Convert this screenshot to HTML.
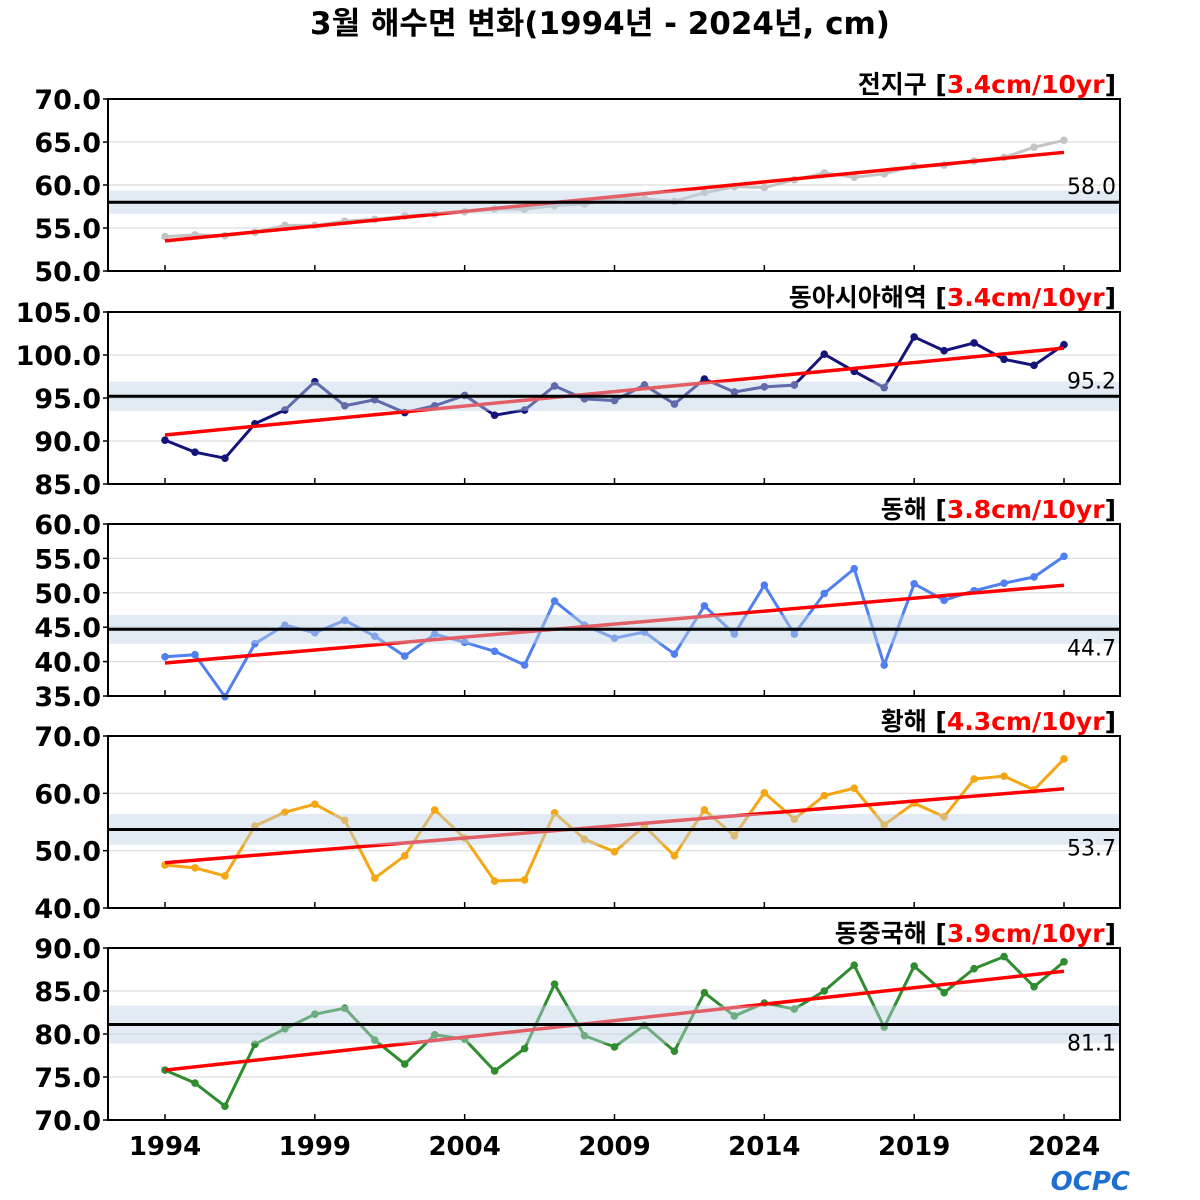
<!DOCTYPE html>
<html><head><meta charset="utf-8"><style>
body{margin:0;background:#fff;width:1200px;height:1200px;overflow:hidden}
svg{display:block}
text{font-family:"DejaVu Sans","Noto Sans CJK KR",sans-serif}
</style></head><body>
<svg id="chart" width="1200" height="1200">
<text x="600" y="34" text-anchor="middle" font-size="31" font-weight="bold">3월 해수면 변화(1994년 - 2024년, cm)</text>
<text x="1130" y="1190" text-anchor="end" font-size="26" font-weight="bold" fill="#1e6fd0" font-style="italic">OCPC</text>
</svg>
<script>
const years=[];for(let y=1994;y<=2024;y++)years.push(y);
const xTicks=[1994,1999,2004,2009,2014,2019,2024];
const globalVals=[54.0,54.2,54.1,54.5,55.3,55.3,55.8,56.0,56.4,56.6,56.9,57.2,57.2,57.6,57.8,58.4,58.4,58.1,59.1,59.8,59.7,60.6,61.4,60.9,61.3,62.2,62.3,62.8,63.2,64.4,65.2];
const eastAsiaVals=[90.1,88.7,88.0,92.0,93.6,96.9,94.1,94.8,93.3,94.1,95.3,93.0,93.6,96.4,94.9,94.7,96.5,94.3,97.2,95.7,96.3,96.5,100.1,98.1,96.2,102.1,100.5,101.4,99.5,98.8,101.2];
const eastSeaVals=[40.7,41.0,34.9,42.6,45.3,44.2,46.0,43.7,40.8,44.0,42.8,41.5,39.5,48.8,45.3,43.4,44.3,41.1,48.1,44.0,51.1,44.0,49.9,53.5,39.5,51.3,48.9,50.3,51.4,52.3,55.3];
const yellowSeaVals=[47.5,47.0,45.6,54.3,56.7,58.1,55.3,45.2,49.1,57.1,52.2,44.7,44.9,56.6,52.0,49.8,54.3,49.1,57.1,52.6,60.1,55.5,59.6,60.9,54.5,58.3,55.9,62.5,63.0,60.6,66.0];
const ecsVals=[75.8,74.3,71.6,78.8,80.6,82.3,83.0,79.3,76.5,79.9,79.4,75.7,78.3,85.8,79.8,78.5,81.0,78.0,84.8,82.1,83.6,82.9,85.0,88.0,80.8,87.9,84.8,87.6,89.0,85.5,88.4];
const panelNames=["전지구","동아시아해역","동해","황해","동중국해"];
const trendLabels=["3.4cm/10yr","3.4cm/10yr","3.8cm/10yr","4.3cm/10yr","3.9cm/10yr"];
const baselines=[58.0,95.2,44.7,53.7,81.1];
const bandHalf=[1.35,1.7,2.1,2.7,2.2];
const trendStart=[53.5,90.7,39.8,47.9,75.8];
const trendEnd=[63.8,100.8,51.1,60.8,87.3];
const yMins=[50,85,35,40,70];
const yMaxs=[70,105,60,70,90];
const yStepsArr=[5,5,5,10,5];
const series=[globalVals,eastAsiaVals,eastSeaVals,yellowSeaVals,ecsVals];
const colors=["#c4c4c4","#14147a","#4f7ff0","#f5a612","#2f8c2f"];
const labelAbove=[true,true,false,false,false];
const slugs=["global","east-asia","east-sea","yellow-sea","east-china-sea"];

const NS="http://www.w3.org/2000/svg";
const svg=document.getElementById('chart');
function mk(tag,attrs,parent){const e=document.createElementNS(NS,tag);for(const k in attrs)e.setAttribute(k,attrs[k]);(parent||svg).appendChild(e);return e;}
const L=108,R=1120;
const xs=y=>165+(y-1994)*(1064-165)/30;
const tops=[99,312,524,736,948],H=172;

for(let p=0;p<5;p++){
  const g=mk('g',{});
  
  
  const T=tops[p],B=T+H;
  const ys=v=>B-(v-yMins[p])/(yMaxs[p]-yMins[p])*H;
  for(let v=yMins[p];v<=yMaxs[p]+1e-9;v+=yStepsArr[p]){
    const y=ys(v);
    if(v>yMins[p]&&v<yMaxs[p]){const gl=mk('line',{x1:L,x2:R,y1:y,y2:y,stroke:'#dcdcdc','stroke-width':1.2},g);
      }
    mk('line',{x1:L-5,x2:L,y1:y,y2:y,stroke:'#000','stroke-width':1.5},g);
    const t=mk('text',{x:L-7,y:y+10,'text-anchor':'end','font-size':27,'font-weight':'bold'},g);
    t.textContent=v.toFixed(1);
    
  }
  for(const xt of xTicks){mk('line',{x1:xs(xt),x2:xs(xt),y1:B,y2:B-6,stroke:'#000','stroke-width':1.5},g);}
  const pts=years.map((yr,i)=>xs(yr)+','+ys(series[p][i])).join(' ');
  const pl=mk('polyline',{points:pts,fill:'none',stroke:colors[p],'stroke-width':3,'stroke-linejoin':'round'},g);
  
  years.forEach((yr,i)=>{const c=mk('circle',{cx:xs(yr),cy:ys(series[p][i]),r:3.8,fill:colors[p]},g);
    });
  const tl=mk('line',{x1:xs(1994),x2:xs(2024),y1:ys(trendStart[p]),y2:ys(trendEnd[p]),stroke:'#ff0000','stroke-width':3.5},g);
  
  const bd=mk('rect',{x:L,width:R-L,y:ys(baselines[p]+bandHalf[p]),height:ys(baselines[p]-bandHalf[p])-ys(baselines[p]+bandHalf[p]),fill:'rgba(190,210,228,0.45)'},g);
  
  const bl=mk('line',{x1:L,x2:R,y1:ys(baselines[p]),y2:ys(baselines[p]),stroke:'#000','stroke-width':3},g);
  
  const bt=mk('text',{x:1116,y:labelAbove[p]?ys(baselines[p])-8:ys(baselines[p])+26,'text-anchor':'end','font-size':22},g);
  bt.textContent=baselines[p].toFixed(1);
  
  mk('rect',{x:L,y:T,width:R-L,height:H,fill:'none',stroke:'#000','stroke-width':2},g);
  const pt=mk('text',{x:1116,y:T-6,'text-anchor':'end','font-size':25,'font-weight':'bold'},g);
  
  const s1=mk('tspan',{},pt);s1.textContent=panelNames[p]+' [';
  const s2=mk('tspan',{fill:'#ff0000'},pt);s2.textContent=trendLabels[p];
  const s3=mk('tspan',{},pt);s3.textContent=']';
}
for(const xt of xTicks){
  const t=mk('text',{x:xs(xt),y:1155,'text-anchor':'middle','font-size':26,'font-weight':'bold'});
  t.textContent=xt;
  
}
</script>
</body></html>
